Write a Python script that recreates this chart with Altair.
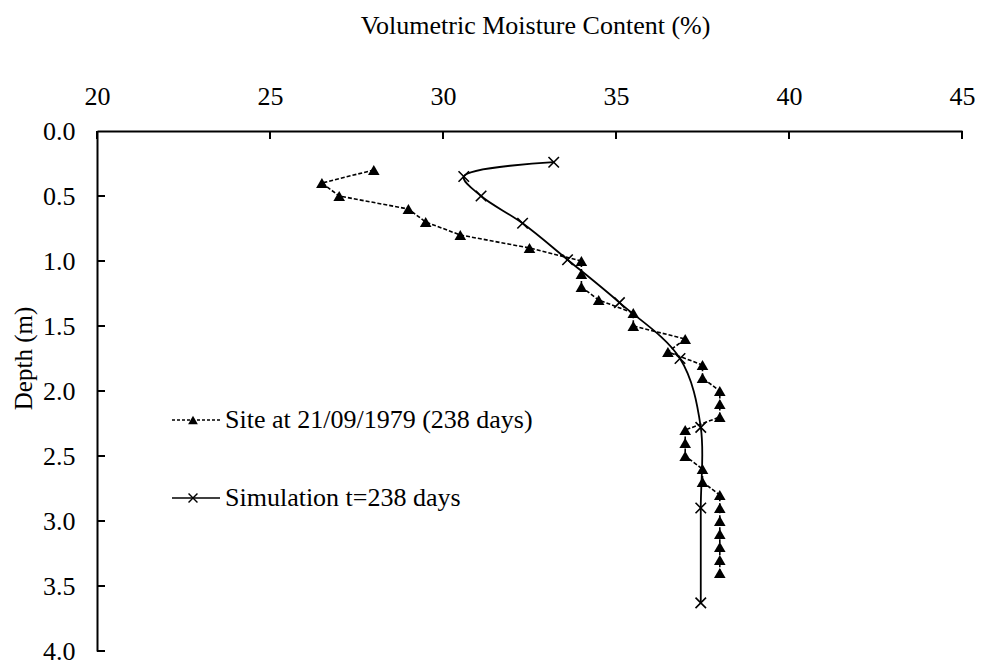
import altair as alt
import pandas as pd

# ---- data ----
site_depth = [0.3, 0.4, 0.5, 0.6, 0.7, 0.8, 0.9, 1.0, 1.1, 1.2, 1.3, 1.4, 1.5, 1.6,
              1.7, 1.8, 1.9, 2.0, 2.1, 2.2, 2.3, 2.4, 2.5, 2.6, 2.7, 2.8, 2.9, 3.0,
              3.1, 3.2, 3.3, 3.4]
site_moist = [28.0, 26.5, 27.0, 29.0, 29.5, 30.5, 32.5, 34.0, 34.0, 34.0, 34.5, 35.5,
              35.5, 37.0, 36.5, 37.5, 37.5, 38.0, 38.0, 38.0, 37.0, 37.0, 37.0, 37.5,
              37.5, 38.0, 38.0, 38.0, 38.0, 38.0, 38.0, 38.0]

sim_depth = [0.24, 0.35, 0.50, 0.71, 0.99, 1.32, 1.75, 2.28, 2.90, 3.63]
sim_moist = [33.2, 30.6, 31.1, 32.3, 33.6, 35.1, 36.85, 37.45, 37.45, 37.45]

x_ticks = [20, 25, 30, 35, 40, 45]
y_ticks = [0.0, 0.5, 1.0, 1.5, 2.0, 2.5, 3.0, 3.5, 4.0]

x_title = "Volumetric Moisture Content (%)"
y_title = "Depth (m)"
legend_labels = ["Site at 21/09/1979 (238 days)", "Simulation t=238 days"]

FONT = "Liberation Serif"

site = pd.DataFrame({"moist": site_moist, "depth": site_depth})
sim = pd.DataFrame({"moist": sim_moist, "depth": sim_depth})
xt = pd.DataFrame({"moist": x_ticks})
yt = pd.DataFrame({"depth": y_ticks[1:]})
leg1 = pd.DataFrame({"label": [legend_labels[0]]})
leg2 = pd.DataFrame({"label": [legend_labels[1]]})

xscale = alt.Scale(domain=[20, 45], nice=False, zero=False)
yscale = alt.Scale(domain=[0, 4], nice=False, zero=False, reverse=True)

x_axis = alt.Axis(orient="top", values=x_ticks, format="d", title=x_title,
                  tickSize=0, ticks=False, labelPadding=22, labelFlush=False, grid=False,
                  domain=True, domainColor="black", domainWidth=2,
                  labelFont=FONT, labelFontSize=26, labelColor="black",
                  titleFont=FONT, titleFontSize=26, titleFontWeight="normal",
                  titleColor="black", titleX=438, titleY=-106,
                  titleBaseline="middle", titleAlign="center")
y_axis = alt.Axis(orient="left", values=y_ticks, format=".1f", title=y_title,
                  tickSize=0, ticks=False, labelPadding=22, labelFlush=False, grid=False,
                  domain=True, domainColor="black", domainWidth=2,
                  labelFont=FONT, labelFontSize=26, labelColor="black",
                  labelOverlap=False,
                  titleFont=FONT, titleFontSize=25, titleFontWeight="normal",
                  titleColor="black", titleAngle=-90, titleX=-74, titleY=227,
                  titleBaseline="middle", titleAlign="center")

X = alt.X("moist:Q", scale=xscale, axis=x_axis)
Y = alt.Y("depth:Q", scale=yscale, axis=y_axis)

site_line = alt.Chart(site).mark_line(color="black", strokeWidth=1.6,
                                      strokeDash=[4, 2]).encode(
    x=X, y=Y, order=alt.Order("depth:Q"),
)
site_pts = alt.Chart(site).mark_point(shape="triangle-up", filled=True, color="black",
                                      size=135, opacity=1).encode(x=X, y=Y)
sim_line = alt.Chart(sim).mark_line(color="black", strokeWidth=1.8,
                                    interpolate="catmull-rom").encode(
    x=X, y=Y, order=alt.Order("depth:Q"),
)
XPATH = "M-1,-1L1,1M-1,1L1,-1"
sim_pts = alt.Chart(sim).mark_point(shape=XPATH, filled=False, color="black",
                                    strokeWidth=1.6, size=110, opacity=1).encode(x=X, y=Y)

# inward tick marks
xtick_marks = alt.Chart(xt).mark_rule(color="black", strokeWidth=2).encode(
    x=X, y=alt.value(0), y2=alt.value(8),
)
ytick_marks = alt.Chart(yt).mark_rule(color="black", strokeWidth=2).encode(
    y=Y, x=alt.value(0), x2=alt.value(8),
)

# legend drawn inside the plot
l1_line = alt.Chart(leg1).mark_rule(color="black", strokeWidth=1.4,
                                    strokeDash=[3, 2]).encode(
    x=alt.value(75), x2=alt.value(123), y=alt.value(289))
l1_sym = alt.Chart(leg1).mark_point(shape="triangle-up", filled=True, color="black",
                                    size=95, opacity=1).encode(
    x=alt.value(96), y=alt.value(289))
l1_txt = alt.Chart(leg1).mark_text(align="left", baseline="middle", font=FONT,
                                   fontSize=26, color="black").encode(
    x=alt.value(128), y=alt.value(289), text="label:N")
l2_line = alt.Chart(leg2).mark_rule(color="black", strokeWidth=1.4).encode(
    x=alt.value(75), x2=alt.value(123), y=alt.value(367))
l2_sym = alt.Chart(leg2).mark_point(shape=XPATH, filled=False, color="black",
                                    strokeWidth=1.4, size=80, opacity=1).encode(
    x=alt.value(96), y=alt.value(367))
l2_txt = alt.Chart(leg2).mark_text(align="left", baseline="middle", font=FONT,
                                   fontSize=26, color="black").encode(
    x=alt.value(128), y=alt.value(367), text="label:N")

chart = alt.layer(
    site_line, site_pts, sim_line, sim_pts, xtick_marks, ytick_marks,
    l1_line, l1_sym, l1_txt, l2_line, l2_sym, l2_txt,
).properties(
    width=865, height=520,
    autosize=alt.AutoSizeParams(type="none"),
    padding={"left": 89, "top": 123, "right": 13, "bottom": 13},
    background="white",
).configure_view(stroke=None)

chart.save("out.html", embed_options={"renderer": "svg", "actions": False})
